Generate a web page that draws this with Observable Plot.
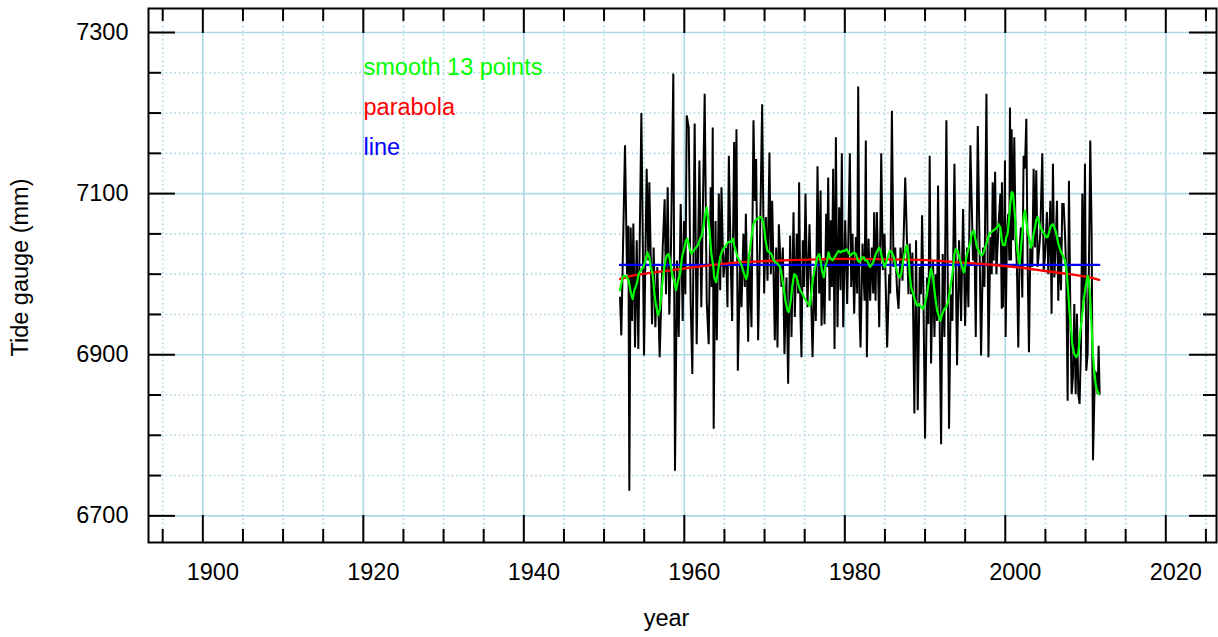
<!DOCTYPE html>
<html>
<head>
<meta charset="utf-8">
<script src="https://cdn.jsdelivr.net/npm/d3@7"></script>
<script src="https://cdn.jsdelivr.net/npm/@observablehq/plot@0.6"></script>
<style>
  html, body { margin: 0; padding: 0; background: #ffffff; }
  #chart svg { display: block; }
</style>
</head>
<body>
<div id="chart"></div>
<script>
// ---- data: [year, tide gauge (mm)] ----
const tideGauge = [
  [1951.99,6971],[1952.15,6924],[1952.61,7160],[1952.86,7000],[1953.03,7060],[1953.15,6731],[1953.32,7058],[1953.48,6942],
  [1953.65,7063],[1953.86,6909],[1954.07,7042],[1954.27,6907],[1954.65,7200],[1954.98,6899],[1955.31,7131],[1955.52,7017],
  [1955.64,7114],[1955.98,6938],[1956.18,7033],[1956.39,6934],[1956.64,7009],[1956.93,6897],[1957.31,7033],[1957.55,7093],
  [1957.72,6975],[1957.93,7108],[1958.13,6950],[1958.34,7033],[1958.63,7249],[1958.84,6756],[1959.09,7017],[1959.30,6922],
  [1959.55,7087],[1959.80,6942],[1959.96,7066],[1960.13,6975],[1960.30,7197],[1960.55,7182],[1960.79,6967],[1961.00,6876],
  [1961.29,7187],[1961.54,6913],[1961.88,7141],[1962.12,6959],[1962.54,7224],[1962.79,6967],[1963.04,6913],[1963.29,7108],
  [1963.41,6984],[1963.54,7182],[1963.66,6808],
  [1963.89,7066],[1964.05,6918],[1964.30,7100],[1964.47,6980],[1964.63,7108],[1964.88,6996],[1965.21,7033],[1965.38,6959],
  [1965.55,7147],[1965.80,7009],[1965.96,6942],[1966.21,7164],[1966.38,7033],[1966.50,7180],[1966.67,6880],[1966.96,7017],
  [1967.13,6959],[1967.37,7050],[1967.54,6984],[1967.67,7075],[1967.96,6916],[1968.12,7025],[1968.37,6934],[1968.62,7191],
  [1968.79,7091],[1968.95,7143],[1969.20,6918],[1969.45,7050],[1969.70,7211],[1969.95,6976],[1970.16,7071],[1970.37,6992],
  [1970.61,7151],[1970.78,7000],[1970.95,7091],[1971.28,6918],[1971.45,7033],[1971.61,6909],[1971.78,7062],[1972.11,6984],
  [1972.28,7033],[1972.48,6901],[1972.73,6996],[1972.94,6864],[1973.19,7048],[1973.36,6922],[1973.61,7077],[1973.77,6947],
  [1974.02,7050],[1974.19,6976],[1974.31,7114],[1974.48,6947],[1974.60,6897],[1974.77,7042],[1974.93,6984],[1975.10,7100],
  [1975.35,6959],[1975.60,7062],
  [1975.98,6897],[1976.23,7009],[1976.39,6942],[1976.60,7134],[1976.81,6976],[1976.98,7104],[1977.10,6936],[1977.31,7017],
  [1977.47,6938],[1977.68,7075],[1977.81,7009],[1977.93,7120],[1978.10,6967],[1978.26,7067],[1978.39,6984],[1978.55,7131],
  [1978.72,6907],[1978.89,7170],[1979.09,6934],[1979.30,7083],[1979.47,6980],[1979.63,7150],[1979.80,6934],[1980.05,7067],
  [1980.30,6963],[1980.63,7150],[1980.80,6984],[1980.96,7050],[1981.17,6951],[1981.38,7046],[1981.54,6976],[1981.67,7233],
  [1981.84,6951],[1981.96,6909],[1982.21,7038],[1982.46,6967],[1982.62,7166],[1982.75,6897],[1982.96,7044],[1983.16,6967],
  [1983.37,7033],[1983.54,6976],[1983.66,7077],[1983.83,6967],[1984.00,7077],[1984.29,6934],[1984.54,7150],[1984.74,7005],
  [1984.95,7050],[1985.28,6909],[1985.53,7000],[1985.66,6976],[1985.87,7203],[1986.07,7009],[1986.28,7033],[1986.53,6976],
  [1986.70,6957],[1986.95,7033],[1987.19,6992],[1987.53,7120],
  [1987.93,6975],[1988.09,7038],[1988.26,6975],[1988.42,7027],[1988.67,6827],[1988.88,7042],[1989.09,6831],[1989.34,7009],
  [1989.50,6975],[1989.63,7073],[1989.79,6980],[1990.00,6796],[1990.25,6996],[1990.42,6938],[1990.58,7147],[1990.75,6889],
  [1991.00,7017],[1991.17,6922],[1991.33,7000],[1991.50,6942],[1991.62,7110],[1992.00,6789],[1992.20,7025],[1992.41,6922],
  [1992.66,7191],[1992.99,6808],[1993.20,6975],[1993.41,6942],[1993.66,7137],[1993.99,6887],[1994.24,7042],[1994.49,6942],
  [1994.74,7081],[1994.99,6936],[1995.24,7033],[1995.40,6959],[1995.65,7160],[1995.98,7017],[1996.15,7050],[1996.32,6922],
  [1996.57,7184],[1996.82,7017],[1996.98,6899],[1997.23,7033],[1997.40,6984],[1997.65,7224],[1997.90,6897],[1998.14,7046],
  [1998.31,7000],[1998.43,7114],[1998.56,7017],[1998.73,7127],[1998.89,7000],[1999.14,7058],[1999.39,7100],[1999.56,6957],
  [1999.58,7114],[1999.71,6959],[1999.83,7017],[1999.96,7141],[2000.04,6922],[2000.21,7050],[2000.37,7075],[2000.50,7017],
  [2000.58,7207],[2000.71,7017],[2000.79,7180],[2000.96,7042],[2001.12,7170],[2001.29,7042],[2001.45,7009],[2001.62,6909],
  [2001.79,7033],[2001.95,7058],[2002.12,6971],[2002.28,7147],[2002.45,7131],[2002.62,7193],[2002.78,7017],[2002.95,6903],
  [2003.12,7033],[2003.36,7009],[2003.53,7131],[2003.70,7033],[2003.86,7129],[2004.03,7009],[2004.20,7029],[2004.36,7050],
  [2004.61,7150],[2004.78,7005],[2004.94,7021],[2005.19,7077],[2005.36,7000],[2005.61,7091],[2005.77,6951],[2005.94,7137],
  [2006.11,6996],[2006.27,7033],[2006.44,7091],[2006.60,6967],[2006.77,7046],[2006.94,6980],[2007.10,7087],[2007.27,7087],
  [2007.44,7050],[2007.60,7000],[2007.77,6843],[2007.93,7116],[2008.10,6959],[2008.27,6851],[2008.43,6872],[2008.60,6963],
  [2008.77,6851],[2008.93,6951],[2009.10,6851],[2009.26,6839],[2009.43,6909],[2009.60,7100],[2009.76,6967],[2009.93,7137],
  [2010.09,6880],[2010.26,6901],[2010.43,7017],[2010.59,7166],[2010.76,7050],[2010.93,6769],[2011.17,6880],[2011.34,6876],
  [2011.51,6851],[2011.63,6911],[2011.76,6851]
];

const smooth13 = [
  [1951.99,6980],[1952.32,6997],[1952.74,6998],[1953.07,6992],[1953.36,6976],[1953.57,6969],[1953.77,6980],[1954.07,6988],
  [1954.31,7000],[1954.61,7005],[1954.90,7009],[1955.15,7017],[1955.39,7027],[1955.64,7021],[1955.81,7009],[1956.06,7000],
  [1956.27,6976],[1956.47,6961],[1956.72,6949],[1956.97,6957],[1957.22,6984],[1957.39,7000],[1957.64,7017],[1957.80,7023],
  [1958.05,7025],[1958.22,7017],[1958.47,7000],[1958.72,6992],[1958.97,6980],[1959.22,6992],[1959.47,7000],[1959.71,7021],
  [1959.96,7031],[1960.21,7042],[1960.38,7044],[1960.63,7033],[1960.88,7025],[1961.13,7029],[1961.46,7033],[1961.71,7036],
  [1961.96,7044],[1962.12,7046],[1962.37,7058],[1962.54,7071],[1962.79,7083],[1962.95,7071],[1963.12,7058],[1963.37,7025],
  [1963.62,7009],
  [1963.72,6996],[1963.97,6990],[1964.22,7005],[1964.47,7021],[1964.72,7029],[1964.97,7033],[1965.21,7036],[1965.46,7040],
  [1965.80,7040],[1966.05,7044],[1966.21,7036],[1966.46,7027],[1966.63,7021],[1966.88,7017],[1967.21,7009],[1967.46,7000],
  [1967.71,6994],[1967.87,7000],[1968.04,7021],[1968.21,7033],[1968.37,7046],[1968.62,7062],[1968.87,7067],[1969.12,7069],
  [1969.45,7071],[1969.70,7069],[1969.95,7058],[1970.12,7042],[1970.37,7029],[1970.61,7027],[1970.86,7025],[1971.11,7017],
  [1971.36,7015],[1971.61,7013],[1971.94,7009],[1972.11,7000],[1972.36,6984],[1972.61,6967],[1972.86,6955],[1973.02,6953],
  [1973.27,6967],[1973.44,6984],[1973.69,7000],[1973.94,6998],[1974.19,6988],[1974.44,6980],[1974.69,6976],[1974.93,6971],
  [1975.18,6967],[1975.43,6963],[1975.68,6961],
  [1975.73,6967],[1975.90,6984],[1976.06,6996],[1976.31,7009],[1976.56,7021],[1976.81,7025],[1976.98,7017],[1977.14,7005],
  [1977.39,6996],[1977.56,7009],[1977.81,7017],[1977.97,7027],[1978.14,7021],[1978.30,7019],[1978.47,7017],[1978.72,7021],
  [1978.97,7025],[1979.22,7029],[1979.47,7027],[1979.72,7029],[1979.97,7029],[1980.22,7031],[1980.46,7027],[1980.71,7023],
  [1980.88,7025],[1981.13,7027],[1981.38,7025],[1981.63,7017],[1981.79,7015],[1981.96,7017],[1982.13,7021],[1982.38,7021],
  [1982.54,7017],[1982.79,7017],[1982.96,7013],[1983.12,7009],[1983.29,7011],[1983.46,7013],[1983.62,7017],[1983.79,7023],
  [1984.04,7029],[1984.29,7033],[1984.45,7029],[1984.62,7021],[1984.79,7015],[1984.95,7009],[1985.12,7013],[1985.28,7019],
  [1985.45,7025],[1985.62,7029],[1985.87,7027],[1986.11,7021],[1986.36,7009],[1986.61,7000],[1986.86,6996],[1987.03,7000],
  [1987.28,7017],[1987.53,7029],[1987.69,7036],
  [1987.76,7033],[1987.93,7025],[1988.09,7000],[1988.26,6984],[1988.51,6976],[1988.76,6967],[1989.01,6961],[1989.25,6963],
  [1989.50,6959],[1989.75,6957],[1990.00,6963],[1990.25,6976],[1990.50,6992],[1990.75,7007],[1991.00,6996],[1991.17,6980],
  [1991.33,6967],[1991.50,6955],[1991.75,6947],[1991.91,6942],[1992.16,6951],[1992.41,6957],[1992.66,6959],[1992.91,6967],
  [1993.16,6984],[1993.41,7000],[1993.66,7025],[1993.82,7031],[1994.07,7029],[1994.32,7019],[1994.57,7011],[1994.82,7002],
  [1994.99,7009],[1995.15,7021],[1995.40,7031],[1995.65,7040],[1995.82,7050],[1996.07,7054],[1996.23,7046],[1996.48,7033],
  [1996.73,7029],[1996.98,7023],[1997.23,7025],[1997.48,7033],[1997.73,7040],[1997.98,7050],[1998.23,7052],[1998.48,7054],
  [1998.73,7056],[1998.98,7058],[1999.14,7062],[1999.39,7058],[1999.56,7042],[1999.72,7036],
  [1999.96,7036],[2000.12,7046],[2000.29,7050],[2000.46,7067],[2000.62,7087],[2000.79,7102],[2000.96,7100],[2001.12,7083],
  [2001.29,7062],[2001.45,7033],[2001.62,7021],[2001.79,7013],[2001.95,7033],[2002.12,7050],[2002.28,7071],[2002.45,7079],
  [2002.62,7067],[2002.78,7054],[2003.03,7042],[2003.20,7033],[2003.36,7038],[2003.53,7050],[2003.70,7058],[2003.86,7067],
  [2004.03,7071],[2004.20,7065],[2004.36,7058],[2004.61,7054],[2004.86,7050],[2005.11,7046],[2005.28,7046],[2005.52,7054],
  [2005.69,7060],[2005.94,7062],[2006.11,7058],[2006.27,7054],[2006.44,7046],[2006.60,7038],[2006.77,7033],[2006.94,7027],
  [2007.19,7023],[2007.44,7017],[2007.68,7000],[2007.85,6976],[2008.02,6951],[2008.18,6934],[2008.35,6913],[2008.60,6901],
  [2008.85,6897],[2009.10,6901],[2009.35,6930],[2009.51,6942],[2009.76,6967],[2010.01,6984],[2010.26,6998],[2010.43,6992],
  [2010.59,6967],[2010.76,6934],[2010.93,6901],[2011.09,6880],[2011.26,6864],[2011.42,6856],[2011.67,6851]
];

const parabola = [
  [1952.0,6994],[1953.5,6998],[1956.0,7002],[1958.5,7005],[1961.5,7009],[1966.0,7014],[1972.0,7017],[1980.0,7019],
  [1988.0,7018],[1994.0,7015],[1999.0,7011],[2002.0,7008],[2005.0,7004],[2008.0,7000],[2010.5,6996],[2011.7,6993]
];

const fitLine = [[1952.0,7011.5],[2011.7,7011.5]];

// ---- axes ----
const xMajorTicks = [1900, 1920, 1940, 1960, 1980, 2000, 2020];
const xMinorTicks = [1895, 1905, 1910, 1915, 1925, 1930, 1935, 1945, 1950, 1955, 1965, 1970, 1975, 1985, 1990, 1995, 2005, 2010, 2015, 2025];
const yMajorTicks = [6700, 6900, 7100, 7300];
const yMinorTicks = [6750, 6800, 6850, 6950, 7000, 7050, 7150, 7200, 7250];
const xDomain = [1893.23, 2026.32];
const yDomain = [6666.9, 7329.8];

const legendLabels = ["smooth 13 points", "parabola", "line"];
const legendColors = ["#00ff00", "#ff0000", "#0000ff"];

// ---- layout ----
const W = 1218, H = 637;
const mL = 148, mR = 2, mT = 8, mB = 95;
const fw = W - mL - mR, fh = H - mT - mB;
const FONT = 23.5;
const gridColor = "#add8e6";

const chart = Plot.plot({
  width: W,
  height: H,
  marginLeft: mL,
  marginRight: mR,
  marginTop: mT,
  marginBottom: mB,
  style: {fontFamily: "'Liberation Sans', Arial, Helvetica, sans-serif", fontSize: FONT + "px", background: "#ffffff", color: "#000000"},
  x: {domain: xDomain, label: null},
  y: {domain: yDomain, label: null},
  marks: [
    // grid
    Plot.gridX(xMinorTicks, {stroke: gridColor, strokeOpacity: 1, strokeWidth: 1.6, strokeDasharray: "1.6,2.8"}),
    Plot.gridY(yMinorTicks, {stroke: gridColor, strokeOpacity: 1, strokeWidth: 1.6, strokeDasharray: "1.6,2.8"}),
    Plot.gridX(xMajorTicks, {stroke: gridColor, strokeOpacity: 1, strokeWidth: 1.6}),
    Plot.gridY(yMajorTicks, {stroke: gridColor, strokeOpacity: 1, strokeWidth: 1.6}),
    // data
    Plot.line(tideGauge, {x: d => d[0], y: d => d[1], stroke: "#000000", strokeWidth: 2, strokeLinejoin: "miter", strokeMiterlimit: 3}),
    Plot.line(fitLine, {x: d => d[0], y: d => d[1], stroke: "#0000ff", strokeWidth: 2.4}),
    Plot.line(parabola, {x: d => d[0], y: d => d[1], stroke: "#ff0000", strokeWidth: 2.4, curve: "monotone-x"}),
    Plot.line(smooth13, {x: d => d[0], y: d => d[1], stroke: "#00ff00", strokeWidth: 2.2}),
    // inward ticks on all four sides
    Plot.tickX(xMajorTicks, {stroke: "#000", strokeWidth: 2, insetTop: fh - 27}),
    Plot.tickX(xMajorTicks, {stroke: "#000", strokeWidth: 2, insetBottom: fh - 25}),
    Plot.tickX(xMinorTicks, {stroke: "#000", strokeWidth: 2, insetTop: fh - 13}),
    Plot.tickX(xMinorTicks, {stroke: "#000", strokeWidth: 2, insetBottom: fh - 13}),
    Plot.tickY(yMajorTicks, {stroke: "#000", strokeWidth: 2, insetRight: fw - 27}),
    Plot.tickY(yMajorTicks, {stroke: "#000", strokeWidth: 2, insetLeft: fw - 27}),
    Plot.tickY(yMinorTicks, {stroke: "#000", strokeWidth: 2, insetRight: fw - 13}),
    Plot.tickY(yMinorTicks, {stroke: "#000", strokeWidth: 2, insetLeft: fw - 13}),
    Plot.frame({stroke: "#000", strokeWidth: 2}),
    // tick labels
    Plot.axisX(xMajorTicks, {anchor: "bottom", tickSize: 0, tickPadding: 21, dx: 10, tickFormat: d => String(d), fontSize: FONT, fill: "#000", label: null}),
    Plot.axisY(yMajorTicks, {anchor: "left", tickSize: 0, tickPadding: 20, tickFormat: d => String(d), fontSize: FONT, fill: "#000", label: null}),
    // axis titles
    Plot.text(["year"], {frameAnchor: "bottom", text: d => d, textAnchor: "middle", dx: -16, dy: 76, fontSize: FONT, fill: "#000", lineAnchor: "middle"}),
    Plot.text(["Tide gauge (mm)"], {frameAnchor: "left", text: d => d, textAnchor: "middle", rotate: -90, dx: -128, dy: -8, fontSize: FONT, fill: "#000", lineAnchor: "middle"}),
    // legend
    ...legendLabels.map((lab, i) => Plot.text([lab], {
      frameAnchor: "top-left", text: d => d, textAnchor: "start", lineAnchor: "middle",
      dx: 215, dy: 59 + i * 40, fill: legendColors[i], fontSize: FONT
    }))
  ]
});

document.getElementById("chart").appendChild(chart);
</script>
</body>
</html>
